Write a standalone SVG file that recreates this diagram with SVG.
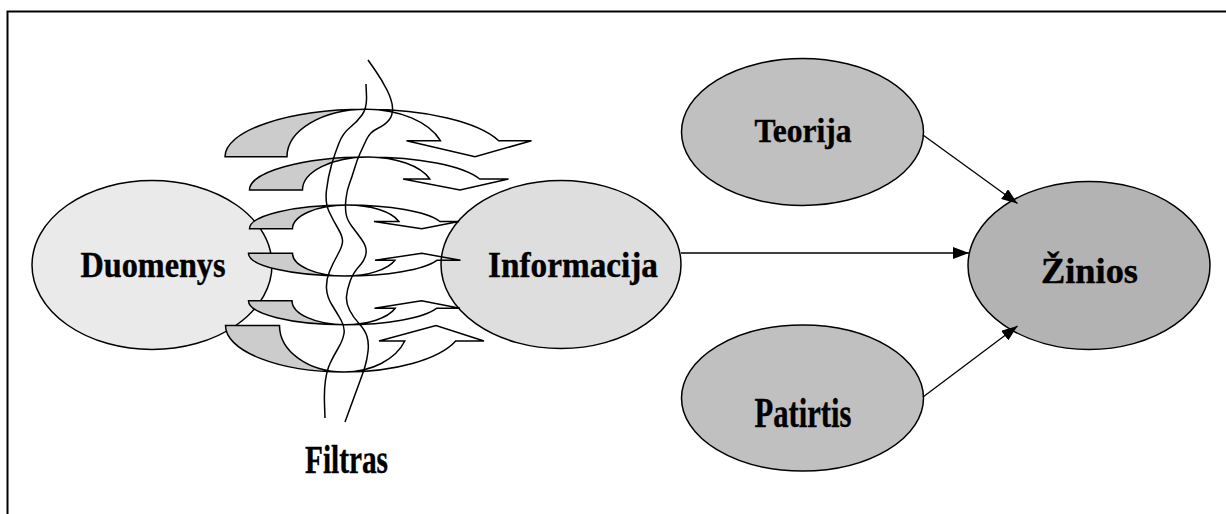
<svg xmlns="http://www.w3.org/2000/svg" width="1226" height="514" viewBox="0 0 1226 514">
<style>
text{font-family:'Liberation Serif','Times New Roman',Times,serif;font-weight:700;fill:#000;stroke:#000;stroke-width:0.4;text-anchor:middle}
.node{stroke:#000;stroke-width:1.5}
.tail{fill:#cccccc;stroke:#000;stroke-width:1.5;stroke-linejoin:miter}
.band{fill:none;stroke:#000;stroke-width:1.5;stroke-linejoin:miter}
.fl{fill:none;stroke:#000;stroke-width:1.5}
.conn{fill:none;stroke:#000;stroke-width:1.3}
</style>
<defs>
<marker id="ah" markerUnits="userSpaceOnUse" markerWidth="16" markerHeight="12" refX="16" refY="6" orient="auto">
<path d="M0,0 L16,6 L0,12 Z" fill="#000" stroke="none"/>
</marker>
</defs>
<rect width="1226" height="514" fill="#fff"/>
<path d="M7.5,514 V11.5 H1226" fill="none" stroke="#000" stroke-width="2"/>

<g id="duomenys">
<ellipse class="node" cx="152" cy="265" rx="120" ry="84.5" fill="#eaeaea"/>
<text x="153" y="277" font-size="35" textLength="145" lengthAdjust="spacingAndGlyphs">Duomenys</text>
</g>
<g id="informacija">
<ellipse class="node" cx="561" cy="264.5" rx="120" ry="84" fill="#dedede"/>
<text x="573" y="277" font-size="35" textLength="170" lengthAdjust="spacingAndGlyphs">Informacija</text>
</g>

<g id="filtras">
<g id="arrow1">
<path class="tail" d="M225,156.7 A141,47.4 0 0 1 366,109.3 A79,47.4 0 0 0 287,156.7 Z"/>
<path class="band" d="M366,109.3 A141,47.4 0 0 1 498.7,140.7 L531.5,140.7 L475,156.7 L406.5,140.7 L440.4,140.7 A79,47.4 0 0 0 366,109.3 Z"/>
</g>
<g id="arrow2">
<path class="tail" d="M249.5,190 A118.5,33 0 0 1 368,157 A65.5,33 0 0 0 302.5,190 Z"/>
<path class="band" d="M368,157 A118.5,33 0 0 1 479.7,179 L508.5,179 L460,190 L403,179 L429.8,179 A65.5,33 0 0 0 368,157 Z"/>
</g>
<g id="arrow3">
<path class="tail" d="M249.5,228.7 A97.5,23.7 0 0 1 347,205 A54.5,23.7 0 0 0 292.5,228.7 Z"/>
<path class="band" d="M347,205 A97.5,23.7 0 0 1 439.9,221.5 L459,221.5 L421.8,228.7 L374,221.5 L398.9,221.5 A54.5,23.7 0 0 0 347,205 Z"/>
</g>
<g id="arrow4">
<path class="tail" d="M248.5,253.3 A96.5,22.7 0 0 0 345,276 A52.5,22.7 0 0 1 292.5,253.3 Z"/>
<path class="band" d="M345,276 A96.5,22.7 0 0 0 436.8,260.3 L460.5,260.3 L421.8,253.3 L375,260.3 L394.9,260.3 A52.5,22.7 0 0 1 345,276 Z"/>
</g>
<g id="arrow5">
<path class="tail" d="M248.5,300.7 A96.5,24 0 0 0 345,324.7 A53,24 0 0 1 292,300.7 Z"/>
<path class="band" d="M345,324.7 A96.5,24 0 0 0 436.5,308.3 L460,308.3 L421.5,300.7 L374.5,308.3 L395.2,308.3 A53,24 0 0 1 345,324.7 Z"/>
</g>
<g id="arrow6">
<path class="tail" d="M225.5,325.5 A118.5,46.5 0 0 0 344,372 A64.5,46.5 0 0 1 279.5,325.5 Z"/>
<path class="band" d="M344,372 A118.5,46.5 0 0 0 455.7,341 L484,341 L436,325.5 L379,341 L404.8,341 A64.5,46.5 0 0 1 344,372 Z"/>
</g>
<path class="fl" d="M368,60 L375,70 Q382,80 387,90 Q392,100 392.5,107.5 Q393,115 389,120 Q385,125 377.5,128.5 Q370,132 366.5,139.5 Q363,147 360,153.5 Q357,160 354.5,168.5 Q352,177 349.5,183.5 Q347,190 346,198.5 Q345,207 346,213.5 Q347,220 352,226.5 Q357,233 362,240 Q367,247 366,253.5 Q365,260 359,266.5 Q353,273 350,281.5 Q347,290 346.5,296.5 Q346,303 349.5,310 Q353,317 359,323.5 Q365,330 367,336.5 Q369,343 368,351.5 Q367,360 365,366.5 Q363,373 360,381 L345,422"/>
<path class="fl" d="M366,84 L366.5,96 Q367,108 362,115 Q357,122 350,127.5 Q343,133 339,143 Q335,153 331.5,165 Q328,177 326.5,190 Q325,203 329,211.5 Q333,220 338,228.5 Q343,237 342.5,242 Q342,247 337.5,255 Q333,263 329.5,271.5 Q326,280 326.5,288.5 Q327,297 332,305 Q337,313 341,320 Q345,327 344,333.5 Q343,340 338,348.5 Q333,357 330,363.5 Q327,370 325.5,380 Q324,390 324.5,404 L325,418"/>
<text x="346.5" y="473" font-size="40" textLength="83" lengthAdjust="spacingAndGlyphs">Filtras</text>
</g>

<g id="teorija">
<ellipse class="node" cx="802.5" cy="132" rx="121" ry="73.5" fill="#c0c0c0"/>
<text x="803" y="142" font-size="33" textLength="97" lengthAdjust="spacingAndGlyphs">Teorija</text>
</g>
<g id="patirtis">
<ellipse class="node" cx="802.5" cy="398" rx="121" ry="73" fill="#c0c0c0"/>
<text x="803" y="427" font-size="42" textLength="97" lengthAdjust="spacingAndGlyphs">Patirtis</text>
</g>
<g id="zinios">
<ellipse class="node" cx="1089" cy="265.5" rx="121" ry="84" fill="#b3b3b3"/>
<text x="1089.5" y="283" font-size="35" textLength="97" lengthAdjust="spacingAndGlyphs">Žinios</text>
</g>

<g id="connectors">
<line class="conn" x1="681" y1="253" x2="969" y2="253" marker-end="url(#ah)"/>
<line class="conn" x1="923" y1="135" x2="1017.5" y2="203.5" marker-end="url(#ah)"/>
<line class="conn" x1="923" y1="397" x2="1017.5" y2="326" marker-end="url(#ah)"/>
</g>
</svg>
